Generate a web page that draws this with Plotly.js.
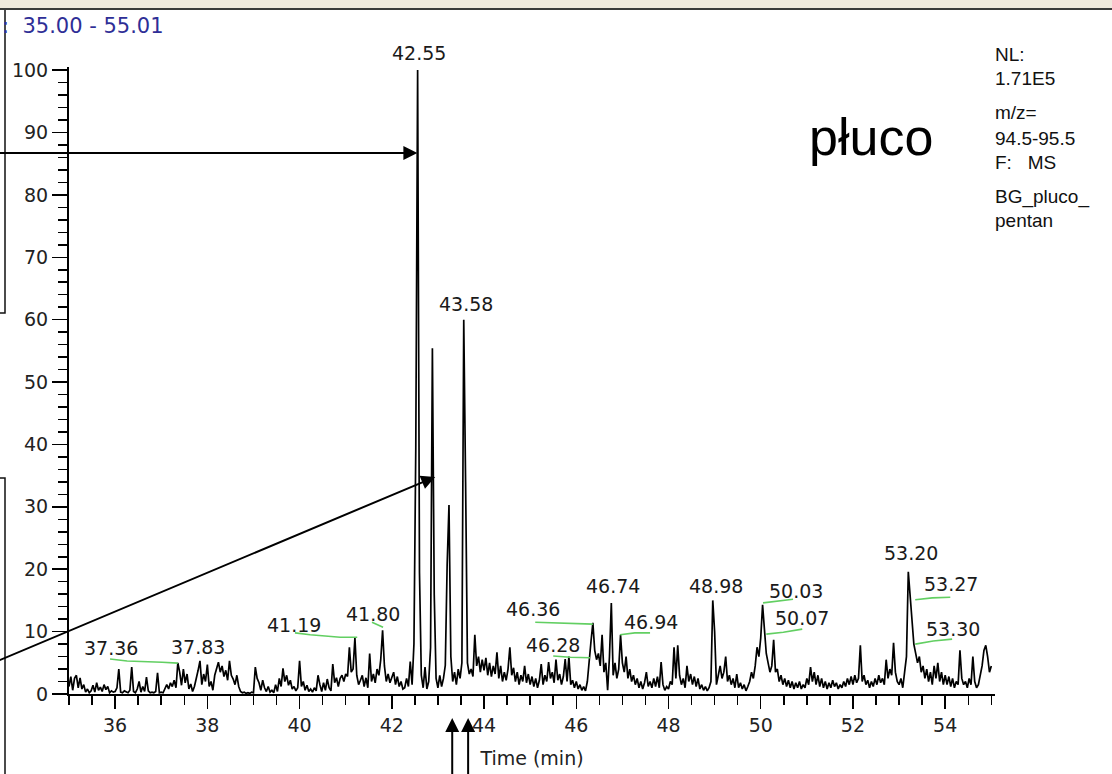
<!DOCTYPE html>
<html>
<head>
<meta charset="utf-8">
<script src="https://cdn.plot.ly/plotly-3.0.1.min.js"></script>
<style>
  html, body { margin: 0; padding: 0; background: #ffffff; }
  #chart { width: 1112px; height: 774px; }
</style>
</head>
<body>
<div id="chart"></div>
<script>
// ---- Data ----
// Scan start time and scan spacing (minutes)
const startTime = 35.0;
const scanStep = 0.04;

// Relative abundance per scan, one row per minute (35.00 ... 55.00)
const intensity = [
  1.2,2.8,0.6,2.5,3.0,1.0,2.6,0.8,1.5,0.3,0.8,0.2,0.5,1.4,0.3,1.8,0.6,1.1,0.4,1.5,0.7,1.2,0.2,0.5,0.3,
  0.4,1.0,4.0,0.3,0.2,0.5,0.3,0.2,0.6,4.3,0.4,0.2,0.8,2.0,0.3,1.2,0.4,2.7,0.5,0.2,0.3,0.2,0.4,3.4,0.2,
  0.3,0.2,0.9,1.5,0.8,1.8,1.2,2.2,1.0,5.0,3.5,1.4,4.0,1.8,3.2,0.8,1.6,0.4,1.2,2.4,3.8,5.3,1.5,3.2,2.0,
  4.7,1.2,2.0,0.6,3.0,4.2,5.1,3.5,4.5,2.8,3.8,2.2,5.3,3.0,2.4,1.5,3.0,1.2,0.4,0.2,0.3,0.1,0.2,0.1,0.3,
  0.2,4.3,2.5,1.8,0.6,2.2,1.0,0.4,1.2,0.3,0.6,0.2,1.5,0.4,2.5,1.2,4.1,2.0,3.0,1.4,2.2,0.8,1.2,0.5,1.0,
  5.3,1.2,2.0,0.6,1.4,0.4,0.8,0.3,1.0,0.5,3.0,1.5,0.4,1.8,0.6,2.4,1.0,0.5,4.8,1.8,2.6,1.2,2.5,3.0,2.0,
  3.2,2.8,7.5,3.5,4.0,9.0,3.0,1.5,2.2,3.0,1.2,2.6,1.0,6.5,2.0,3.2,1.8,4.0,3.0,5.5,10.2,4.5,2.0,3.2,1.8,
  2.6,3.5,1.5,2.8,1.2,2.0,0.8,1.0,2.5,1.2,5.2,1.5,8.0,39.5,100,19.5,3.0,1.0,4.3,0.8,2.0,7.4,55.4,15.9,2.5,
  1.0,3.0,1.2,2.5,4.6,20.7,30.3,6.0,2.0,3.5,1.5,4.0,2.5,5.0,60.0,34.0,5.0,3.2,4.0,2.8,9.5,4.5,6.0,3.5,5.5,
  3.8,5.8,3.0,5.0,2.8,4.5,3.2,6.7,2.5,4.5,2.0,3.5,2.2,4.0,7.5,3.0,4.2,2.0,3.5,1.5,3.0,2.0,4.5,1.8,3.2,
  1.5,2.8,1.2,2.5,1.0,2.2,4.8,1.5,3.0,2.0,5.1,2.5,3.5,1.8,5.5,2.2,3.2,1.5,2.8,5.6,2.0,6.0,1.5,2.2,1.0,
  2.0,0.8,1.5,0.6,1.2,0.5,2.0,6.0,8.5,11.4,7.0,5.5,6.5,4.5,9.5,3.5,5.0,0.6,6.0,14.6,3.0,5.0,2.5,4.0,9.5,
  5.0,3.5,6.0,2.5,4.0,2.0,3.0,1.5,2.5,1.0,2.0,0.8,1.8,3.5,1.2,2.0,1.0,2.5,1.2,2.8,1.0,5.1,1.5,0.6,1.2,
  0.8,2.0,1.5,7.5,2.5,7.8,3.0,1.5,2.5,1.0,4.5,2.0,3.2,1.5,2.8,1.2,2.5,0.8,1.5,0.6,1.2,0.5,1.0,2.0,15.0,
  10.0,1.5,3.0,4.5,2.5,3.5,6.0,2.0,3.0,1.5,2.5,1.0,3.2,1.0,1.8,0.8,1.5,0.5,1.2,2.0,3.5,2.5,4.5,7.5,6.0,
  9.0,14.3,9.8,6.5,5.0,3.5,4.5,8.7,3.5,4.0,2.0,3.0,1.5,2.5,1.2,2.2,1.0,2.0,0.8,1.8,1.0,2.0,0.8,1.5,1.0,
  2.5,1.5,4.3,2.0,3.5,1.5,3.0,1.2,2.5,1.0,2.0,0.8,1.8,1.0,2.2,1.2,1.8,0.8,1.5,1.0,2.0,1.2,2.5,1.5,2.8,
  1.5,3.0,1.8,2.5,7.8,2.0,3.0,1.5,2.2,1.0,2.0,1.2,2.5,1.5,3.0,1.8,2.5,1.5,5.5,2.5,4.0,3.0,8.2,3.5,2.0,
  1.5,2.5,1.0,3.5,6.0,19.6,15.2,11.0,8.0,6.5,5.0,6.0,3.5,4.5,2.5,4.0,2.0,3.5,1.5,4.5,2.5,5.0,2.0,3.5,1.5,
  3.0,1.5,2.8,1.2,2.5,1.0,2.0,1.5,7.0,2.5,1.5,2.0,1.0,2.5,1.5,6.0,2.0,1.0,1.5,3.0,4.5,7.0,7.8,6.0,3.5,
  4.5
];

// Peak retention-time labels and where they are printed (time, abundance)
const peakLabels = ["37.36","37.83","41.19","41.80","42.55","43.58","46.36","46.28","46.74","46.94","48.98","50.03","50.07","53.20","53.27","53.30"];
const peakLabelX = [35.90, 37.80, 39.87, 41.59, 42.59, 43.61, 45.06, 45.50, 46.79, 47.63, 49.02, 50.76, 50.89, 53.25, 54.12, 54.16];
const peakLabelY = [7.37, 7.53, 11.06, 12.82, 102.7, 62.5, 13.62, 7.85, 17.31, 11.54, 17.31, 16.51, 12.18, 22.6, 17.63, 10.42];

// Green integration baseline markers (time, abundance)
const baseT = [
  [35.89, 36.26, 37.02, 37.36],
  [39.90, 40.23, 40.88, 41.25],
  [41.57, 41.68, 41.81],
  [45.11, 45.80, 46.36],
  [45.50, 45.87, 46.30],
  [46.95, 47.27, 47.60],
  [50.05, 50.38, 50.70],
  [50.12, 50.49, 50.90],
  [53.35, 53.72, 54.11],
  [53.35, 53.74, 54.15]
];
const baseY = [
  [5.6, 5.3, 5.1, 4.95],
  [9.8, 9.5, 9.1, 9.1],
  [11.5, 11.1, 10.7],
  [11.5, 11.4, 11.2],
  [6.1, 5.9, 5.8],
  [9.5, 9.8, 9.8],
  [14.6, 14.9, 15.2],
  [9.6, 9.9, 10.4],
  [15.1, 15.4, 15.5],
  [8.0, 8.5, 8.8]
];

// Pointer arrows: head (time, abundance) and tail (time, abundance)
const arrowHeadT = [42.555, 42.94, 43.31, 43.655];
const arrowHeadY = [86.7, 34.8, -3.85, -3.85];
const arrowTailT = [33.3, 33.29, 43.31, 43.655];
const arrowTailY = [86.7, 4.78, -14.5, -14.5];

// Side information text
const infoLines = ["NL:", "1.71E5", "m/z=", "94.5-95.5", "F:&nbsp;&nbsp;&nbsp;MS", "BG_pluco_", "pentan"];
const infoPy = [55, 78, 113, 138, 162, 197, 220];

// ---- Figure geometry helpers (pixel -> paper) ----
const L = 69, T = 67, R = 995, B = 694;
const W = R - L, H = B - T;
const YMAX = 100.5;
const px = v => (v - L) / W;
const py = v => (B - v) / H;
const yp = v => v / YMAX;   // abundance -> paper fraction

const traces = [];
traces.push({
  type: 'scatter', mode: 'lines',
  y: intensity, x0: startTime, dx: scanStep,
  line: { color: '#000000', width: 1.7 },
  hoverinfo: 'x+y', showlegend: false
});
for (let i = 0; i < baseT.length; i++) {
  traces.push({
    type: 'scatter', mode: 'lines', x: baseT[i], y: baseY[i],
    line: { color: '#62cf62', width: 1.6 }, hoverinfo: 'skip', showlegend: false
  });
}

const annotations = [];
const labelFont = { family: 'DejaVu Sans, sans-serif', size: 19, color: '#1a1a1a' };
for (let i = 0; i < peakLabels.length; i++) {
  annotations.push({
    xref: 'x', yref: 'paper', x: peakLabelX[i], y: yp(peakLabelY[i]),
    text: peakLabels[i], showarrow: false, xanchor: 'center', yanchor: 'middle',
    font: labelFont
  });
}
for (let i = 0; i < arrowHeadT.length; i++) {
  annotations.push({
    xref: 'x', yref: 'paper', axref: 'x', ayref: 'paper',
    x: arrowHeadT[i], y: yp(arrowHeadY[i]), ax: arrowTailT[i], ay: yp(arrowTailY[i]),
    text: '', showarrow: true, arrowhead: 2, arrowsize: 1.4, arrowwidth: 2,
    arrowcolor: '#000000', standoff: 0, startstandoff: 0
  });
}
annotations.push({
  xref: 'paper', yref: 'paper', x: px(871), y: py(137),
  text: 'płuco', showarrow: false, xanchor: 'center', yanchor: 'middle',
  font: { family: 'Liberation Sans, Arial, sans-serif', size: 52, color: '#000000' }
});
for (let i = 0; i < infoLines.length; i++) {
  annotations.push({
    xref: 'paper', yref: 'paper', x: px(993), y: py(infoPy[i]),
    text: infoLines[i], showarrow: false, xanchor: 'left', yanchor: 'middle',
    font: { family: 'Liberation Sans, Arial, sans-serif', size: 19, color: '#111111' }
  });
}
annotations.push({
  xref: 'paper', yref: 'paper', x: px(0), y: py(26),
  text: ':&nbsp;&nbsp;35.00 - 55.01', showarrow: false, xanchor: 'left', yanchor: 'middle',
  font: { family: 'DejaVu Sans, sans-serif', size: 21, color: '#2e2e96' }
});
annotations.push({
  xref: 'paper', yref: 'paper', x: px(-7), y: py(393),
  text: 'Relative Abundance', showarrow: false, textangle: -90,
  xanchor: 'center', yanchor: 'middle',
  font: { family: 'DejaVu Sans, sans-serif', size: 16, color: '#111111' }
});

const shapes = [
  { type: 'rect', xref: 'paper', yref: 'paper', x0: px(0), x1: px(1112), y0: py(0), y1: py(8),
    fillcolor: '#efe9dd', line: { width: 0 } },
  { type: 'line', xref: 'paper', yref: 'paper', x0: px(0), x1: px(1112), y0: py(9), y1: py(9),
    line: { color: '#3a3a3a', width: 2 } },
  { type: 'path', xref: 'paper', yref: 'paper',
    path: 'M' + px(5) + ',' + py(10) + ' L' + px(5) + ',' + py(313) + ' L' + px(0) + ',' + py(313),
    line: { color: '#111111', width: 1.5 } },
  { type: 'path', xref: 'paper', yref: 'paper',
    path: 'M' + px(0) + ',' + py(478) + ' L' + px(5) + ',' + py(478) + ' L' + px(5) + ',' + py(774),
    line: { color: '#111111', width: 1.5 } }
];

const axisFont = { family: 'DejaVu Sans, sans-serif', size: 19, color: '#222222' };
const layout = {
  width: 1112, height: 774,
  margin: { l: L, r: 1112 - R, t: T, b: 774 - B, pad: 0 },
  paper_bgcolor: '#ffffff', plot_bgcolor: '#ffffff',
  showlegend: false,
  xaxis: {
    range: [35, 55.08], showline: true, linecolor: '#000000', linewidth: 2,
    ticks: 'outside', tick0: 36, dtick: 2, ticklen: 13, tickwidth: 1.5, tickcolor: '#000000',
    minor: { tick0: 35, dtick: 0.5, ticks: 'outside', ticklen: 9, tickwidth: 1.5, tickcolor: '#000000' },
    showgrid: false, zeroline: false, tickfont: axisFont,
    title: { text: 'Time (min)', font: axisFont, standoff: 17 },
    automargin: false, fixedrange: true
  },
  yaxis: {
    range: [0, YMAX], showline: true, linecolor: '#000000', linewidth: 2,
    ticks: 'outside', tick0: 0, dtick: 10, ticklen: 15, tickwidth: 1.5, tickcolor: '#000000',
    minor: { tick0: 0, dtick: 2, ticks: 'outside', ticklen: 9, tickwidth: 1.5, tickcolor: '#000000' },
    showgrid: false, zeroline: false, tickfont: axisFont,
    automargin: false, fixedrange: true
  },
  annotations: annotations,
  shapes: shapes
};

Plotly.newPlot('chart', traces, layout, { displayModeBar: false, staticPlot: true });
</script>
</body>
</html>
